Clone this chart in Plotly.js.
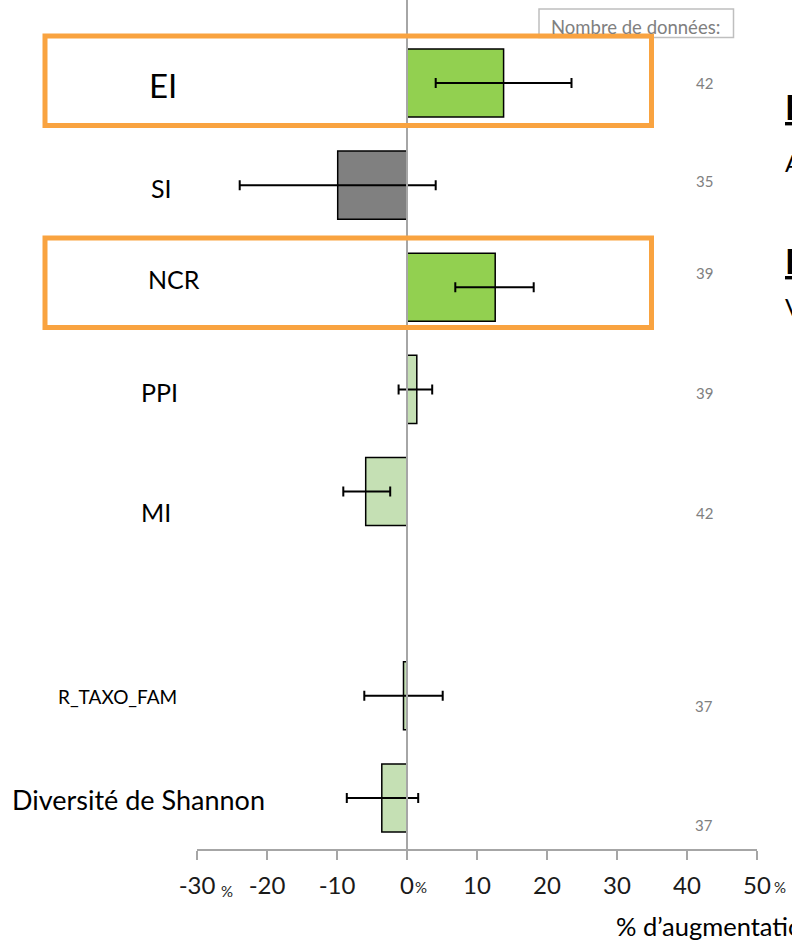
<!DOCTYPE html>
<html>
<head>
<meta charset="utf-8">
<script src="https://cdn.plot.ly/plotly-3.0.1.min.js"></script>
<style>html,body{margin:0;padding:0;background:#fff;}#chart{width:792px;height:941px;}</style>
</head>
<body>
<div id="chart"></div>
<script>
// ---- data ----
const categories = ["EI", "SI", "NCR", "PPI", "MI", " ", "R_TAXO_FAM", "Diversité de Shannon"];
const values     = [13.8, -9.9, 12.6, 1.4, -5.9, null, -0.5, -3.6];
const ciLow      = [4.1, -23.9, 6.9, -1.2, -9.1, null, -6.1, -8.6];
const ciHigh     = [23.5, 4.1, 18.1, 3.6, -2.4, null, 5.1, 1.6];
const counts     = [42, 35, 39, 39, 42, null, 37, 37];
const tickValues = [-30, -20, -10, 0, 10, 20, 30, 40, 50];
const tickLabels = ["-30", "-20", "-10", "0", "10", "20", "30", "40", "50"];
const countsTitle = "Nombre de données:";
const xTitle = "% d’augmentation";

// ---- styles ----
const barColors = ["#92D050", "#808080", "#92D050", "#C5E0B4", "#C5E0B4", "#C5E0B4", "#C5E0B4", "#C5E0B4"];
const FONT = "Lato, 'Open Sans', sans-serif";

// layout geometry (pixels)
const W = 792, H = 941, L = 197, R = 35, T = 0, B = 92;
const PW = W - L - R, PH = H - T - B;
const px = x => (x - L) / PW;
const py = y => 1 - (y - T) / PH;

const errPlus  = values.map((v, i) => v === null ? null : ciHigh[i] - v);
const errMinus = values.map((v, i) => v === null ? null : v - ciLow[i]);

const trace = {
  type: "bar",
  orientation: "h",
  y: categories,
  x: values,
  marker: { color: barColors, line: { color: "#000", width: 1.5 } },
  error_x: { type: "data", symmetric: false, array: errPlus, arrayminus: errMinus,
             color: "#000", thickness: 2, width: 5 },
  hoverinfo: "skip",
  showlegend: false
};

// label placement (left pixel, centre pixel y, font size)
const labelPlace = [
  [148, 85, 33], [150, 188, 25], [147, 279, 25], [140, 392, 25], [140, 512, 25], null,
  [57, 696, 19], [11, 799, 27]
];
const countY = [83, 181, 273, 393, 513, null, 706, 825];

const annotations = [];
categories.forEach((c, i) => {
  const p = labelPlace[i];
  if (!p) return;
  annotations.push({ text: c, xref: "paper", yref: "paper", x: px(p[0]), y: py(p[1]),
    xanchor: "left", yanchor: "middle", showarrow: false, borderpad: 0,
    font: { family: FONT, size: p[2], color: "#000" } });
});
counts.forEach((n, i) => {
  if (n === null) return;
  annotations.push({ text: String(n), xref: "paper", yref: "paper", x: px(704), y: py(countY[i]),
    xanchor: "center", yanchor: "middle", showarrow: false,
    font: { family: FONT, size: 15, color: "#808080" } });
});
annotations.push({ text: countsTitle, xref: "paper", yref: "paper", x: px(635), y: py(27),
  xanchor: "center", yanchor: "middle", showarrow: false,
  font: { family: FONT, size: 18.5, color: "#808080" } });
// small percent signs next to tick labels
[[227, 891], [421, 887], [780, 887]].forEach(p => annotations.push({
  text: "%", xref: "paper", yref: "paper", x: px(p[0]), y: py(p[1]),
  xanchor: "center", yanchor: "middle", showarrow: false,
  font: { family: FONT, size: 15, color: "#262626" } }));
// axis title (clipped by page edge as in the reference)
annotations.push({ text: xTitle, xref: "paper", yref: "paper", x: px(614), y: py(926),
  xanchor: "left", yanchor: "middle", showarrow: false,
  font: { family: FONT, size: 25.5, color: "#000" } });
// text fragments cut by the right page edge
[["<b><u>E</u></b>", 106, 34], ["A", 162, 24], ["<b><u>E</u></b>", 261, 34], ["V", 306, 24]].forEach(f =>
  annotations.push({ text: f[0], xref: "paper", yref: "paper", x: px(784), y: py(f[1]),
    xanchor: "left", yanchor: "middle", showarrow: false, borderpad: 0,
    font: { family: FONT, size: f[2], color: "#000" } }));

const shapes = [
  // zero line above bars
  { type: "line", xref: "x", yref: "paper", x0: 0, x1: 0, y0: 0, y1: 1, layer: "above",
    line: { color: "#a6a6a6", width: 2 } },
  // counts title box
  { type: "rect", xref: "paper", yref: "paper", x0: px(539), x1: px(733.5), y0: py(9), y1: py(37.5),
    line: { color: "#bfbfbf", width: 1.5 }, layer: "above" },
  // orange highlight boxes
  { type: "rect", xref: "paper", yref: "paper", x0: px(45), x1: px(651.5), y0: py(36), y1: py(125.5),
    line: { color: "#F9A340", width: 5 }, layer: "above" },
  { type: "rect", xref: "paper", yref: "paper", x0: px(45), x1: px(651.5), y0: py(238), y1: py(327.5),
    line: { color: "#F9A340", width: 5 }, layer: "above" }
];

const layout = {
  width: W, height: H,
  margin: { l: L, r: R, t: T, b: B, autoexpand: false },
  paper_bgcolor: "#fff", plot_bgcolor: "#fff",
  bargap: 0.333,
  font: { family: FONT },
  xaxis: {
    range: [-30, 50], autorange: false, fixedrange: true,
    tickvals: tickValues, ticktext: tickLabels,
    showgrid: false, zeroline: false,
    showline: true, linecolor: "#a6a6a6", linewidth: 1.5,
    ticks: "outside", ticklen: 9, tickwidth: 1.5, tickcolor: "#a6a6a6",
    ticklabelstandoff: 6,
    tickfont: { family: FONT, size: 24, color: "#1a1a1a" }
  },
  yaxis: {
    type: "category", range: [7.5, -0.813], autorange: false, fixedrange: true,
    showticklabels: false, showgrid: false, zeroline: false, showline: false, ticks: ""
  },
  annotations: annotations,
  shapes: shapes
};

Plotly.newPlot("chart", [trace], layout, { displayModeBar: false, staticPlot: true });
</script>
</body>
</html>
